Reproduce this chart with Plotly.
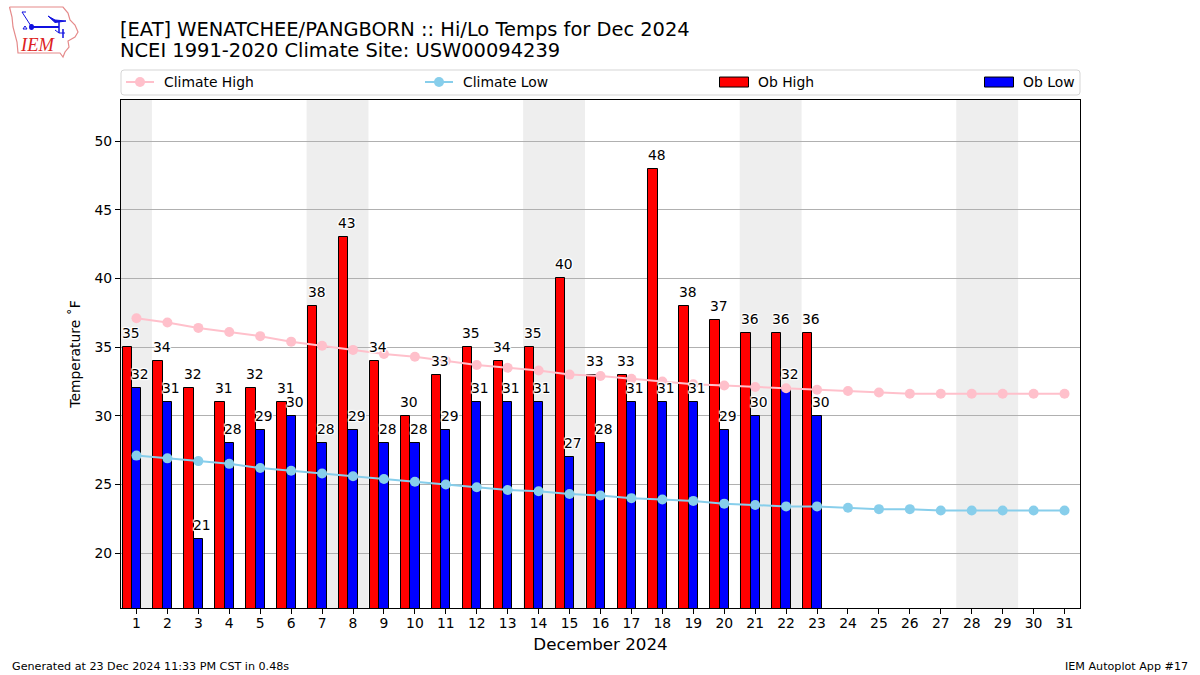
import plotly.graph_objects as go

days = list(range(1, 32))
obs_days = list(range(1, 24))
ob_high = [35,34,32,31,32,31,38,43,34,30,33,35,34,35,40,33,33,48,38,37,36,36,36]
ob_low = [32,31,21,28,29,30,28,29,28,28,29,31,31,31,27,28,31,31,31,29,30,32,30]
climate_high = [37.1,36.8,36.4,36.1,35.8,35.4,35.1,34.8,34.5,34.3,34.0,33.7,33.5,33.3,33.0,32.9,32.7,32.5,32.3,32.2,32.1,32.0,31.9,31.8,31.7,31.6,31.6,31.6,31.6,31.6,31.6]
climate_low = [27.1,26.9,26.7,26.5,26.2,26.0,25.8,25.6,25.4,25.2,25.0,24.8,24.6,24.5,24.3,24.2,24.0,23.9,23.8,23.6,23.5,23.4,23.4,23.3,23.2,23.2,23.1,23.1,23.1,23.1,23.1]
weekends = [(0.5,1.5),(6.5,8.5),(13.5,15.5),(20.5,22.5),(27.5,29.5)]
y_ticks = [20,25,30,35,40,45,50]

FONT = "DejaVu Sans"
W, H = 1200, 675
L, R, T, B = 121, 1080, 100, 608
def px(x): return (x - L) / (R - L)
def py(y): return (B - y) / (B - T)

fig = go.Figure()
fig.add_trace(go.Scatter(x=days, y=climate_high, mode="lines+markers", name="Climate High", legend="legend",
    showlegend=True, line=dict(color="#ffc0cb", width=2), marker=dict(color="#ffc0cb", size=10)))
fig.add_trace(go.Scatter(x=days, y=climate_low, mode="lines+markers", name="Climate Low", legend="legend2",
    showlegend=True, line=dict(color="#87ceeb", width=2), marker=dict(color="#87ceeb", size=10)))
fig.add_trace(go.Bar(x=obs_days, y=ob_high, name="Ob High", width=0.3, offset=-0.45, legend="legend3",
    showlegend=True, marker=dict(color="#ff0000", line=dict(color="black", width=1))))
fig.add_trace(go.Bar(x=obs_days, y=ob_low, name="Ob Low", width=0.3, offset=-0.15, legend="legend4",
    showlegend=True, marker=dict(color="#0000ff", line=dict(color="black", width=1))))

shapes = [dict(type="rect", xref="x", yref="paper", x0=a, x1=b, y0=0, y1=1,
               fillcolor="#eeeeee", line_width=0, layer="below") for a, b in weekends]
# rounded legend frame
lx0, lx1, ly0, ly1 = px(121), px(1080), py(95), py(70)
shapes.append(dict(type="path", xref="paper", yref="paper", line=dict(color="#d5d5d5", width=1),
    path=f"M {px(124)} {ly0} L {px(1077)} {ly0} Q {lx1} {ly0} {lx1} {py(92)} L {lx1} {py(73)} Q {lx1} {ly1} {px(1077)} {ly1} "
         f"L {px(124)} {ly1} Q {lx0} {ly1} {lx0} {py(73)} L {lx0} {py(92)} Q {lx0} {ly0} {px(124)} {ly0} Z"))
# logo outline and glyph
def poly(points, **kw):
    p = "M " + " L ".join(f"{px(x)} {py(y)}" for x, y in points)
    return dict(type="path", xref="paper", yref="paper", path=p, **kw)
BLUE = "#1010e0"
iowa = [(9.5,7),(63,7),(68,13),(70,20),(75,25),(78,32),(75,37),(68,41),(69,47),(65,52),(63,57),(60,53),(18,53),(17,42),(13,27),(12,17),(9.5,7)]
shapes.append(poly(iowa, line=dict(color="#e58a8a", width=1.2)))
shapes.append(poly([(32,27),(59,27)], line=dict(color=BLUE, width=2)))
shapes.append(poly([(26,12),(22,12),(31,26)], line=dict(color=BLUE, width=1)))
shapes.append(poly([(48,16),(55,20),(66,21),(55,22.5),(48,16)], line=dict(color=BLUE, width=1), fillcolor=BLUE))
shapes.append(poly([(59,21),(59,33)], line=dict(color=BLUE, width=1.5)))
shapes.append(poly([(55,30),(59,33)], line=dict(color=BLUE, width=1)))
shapes.append(poly([(63,29),(63,38)], line=dict(color=BLUE, width=1.5)))
shapes.append(poly([(59,33),(65,33)], line=dict(color=BLUE, width=1)))
shapes.append(dict(type="circle", xref="paper", yref="paper", x0=px(29), x1=px(34), y0=py(30), y1=py(24),
                   fillcolor=BLUE, line_width=0))
shapes.append(poly([(23,29),(25,26),(27,29),(23,29)], line=dict(color=BLUE, width=1)))

def note(x, y, text, size, xanchor="left", yanchor="middle", family=FONT, color="black"):
    return dict(xref="paper", yref="paper", x=px(x), y=py(y), text=text, showarrow=False,
                xanchor=xanchor, yanchor=yanchor, borderpad=0, borderwidth=0,
                font=dict(family=family, size=size, color=color))

annotations = [
    note(120, 29, "[EAT] WENATCHEE/PANGBORN :: Hi/Lo Temps for Dec 2024", 19.45),
    note(120, 50.5, "NCEI 1991-2020 Climate Site: USW00094239", 19.45),
    note(12, 666, "Generated at 23 Dec 2024 11:33 PM CST in 0.48s", 11.15),
    note(1188, 666, "IEM Autoplot App #17", 11.15, xanchor="right"),
    note(37.5, 45.5, "<i>IEM</i>", 18.5, xanchor="center", family="Liberation Serif", color="#dd2222"),
]
halo = ",".join(f"{a}px {b}px 1px white" for a in (-1,0,1) for b in (-1,0,1))
for vals, off in ((ob_high, -0.18), (ob_low, 0.12)):
    for d, v in zip(obs_days, vals):
        annotations.append(dict(xref="x", yref="y", x=d + off, y=v, text=str(v), showarrow=False,
            xanchor="center", yanchor="bottom", yshift=6, borderpad=0, borderwidth=0,
            font=dict(family=FONT, size=13.9, color="black", shadow=halo)))

def leg(left):
    return dict(orientation="v", x=px(left), y=py(82.5), xanchor="left", yanchor="middle",
                bgcolor="rgba(0,0,0,0)", borderwidth=0, itemwidth=33, itemclick=False, itemdoubleclick=False,
                font=dict(family=FONT, size=13.9))

fig.update_layout(
    width=W, height=H, autosize=False, showlegend=True,
    margin=dict(l=L, r=W-R, t=T, b=H-B, pad=0),
    paper_bgcolor="white", plot_bgcolor="white",
    barmode="overlay", bargap=0,
    font=dict(family=FONT, size=13.9, color="black"),
    shapes=shapes, annotations=annotations,
    legend=leg(121), legend2=leg(420), legend3=leg(715), legend4=leg(980),
    xaxis=dict(range=[0.5, 31.5], tickmode="array", tickvals=days, ticktext=[str(d) for d in days],
               showgrid=False, zeroline=False, showline=True, mirror=True, linecolor="black", linewidth=1,
               ticks="outside", ticklen=5, tickcolor="black", tickfont=dict(size=13.9, family=FONT),
               ticklabelstandoff=-3,
               title=dict(text="December 2024", font=dict(size=16.7, family=FONT), standoff=8)),
    yaxis=dict(range=[16, 53], tickmode="array", tickvals=y_ticks, ticktext=[str(v) for v in y_ticks],
               showgrid=True, gridcolor="#b0b0b0", gridwidth=1, zeroline=False, showline=True, mirror=True,
               linecolor="black", linewidth=1, ticks="outside", ticklen=5, tickcolor="black",
               tickfont=dict(size=13.9, family=FONT),
               title=dict(text="Temperature ˚F", font=dict(size=13.9, family=FONT), standoff=10)),
)
post = """
document.body.style.margin='0';
var gd = document.getElementById('{plot_id}');
function fixLegend(){
  document.querySelectorAll('g.legendlines path').forEach(function(p){p.setAttribute('d','M5,0h28');});
  document.querySelectorAll('g.legendpoints path.scatterpts').forEach(function(p){p.setAttribute('transform','translate(19,0)');});
  document.querySelectorAll('g.legendpoints path:not(.scatterpts)').forEach(function(p){p.setAttribute('d','M14.5,5H-14.5V-5H14.5Z');p.setAttribute('transform','translate(19,0)');});
}
gd.on('plotly_afterplot', fixLegend);
fixLegend();
[0,50,200,500].forEach(function(t){setTimeout(fixLegend,t);});
"""
fig.write_html("out.html", post_script=post, config=dict(displayModeBar=False))
